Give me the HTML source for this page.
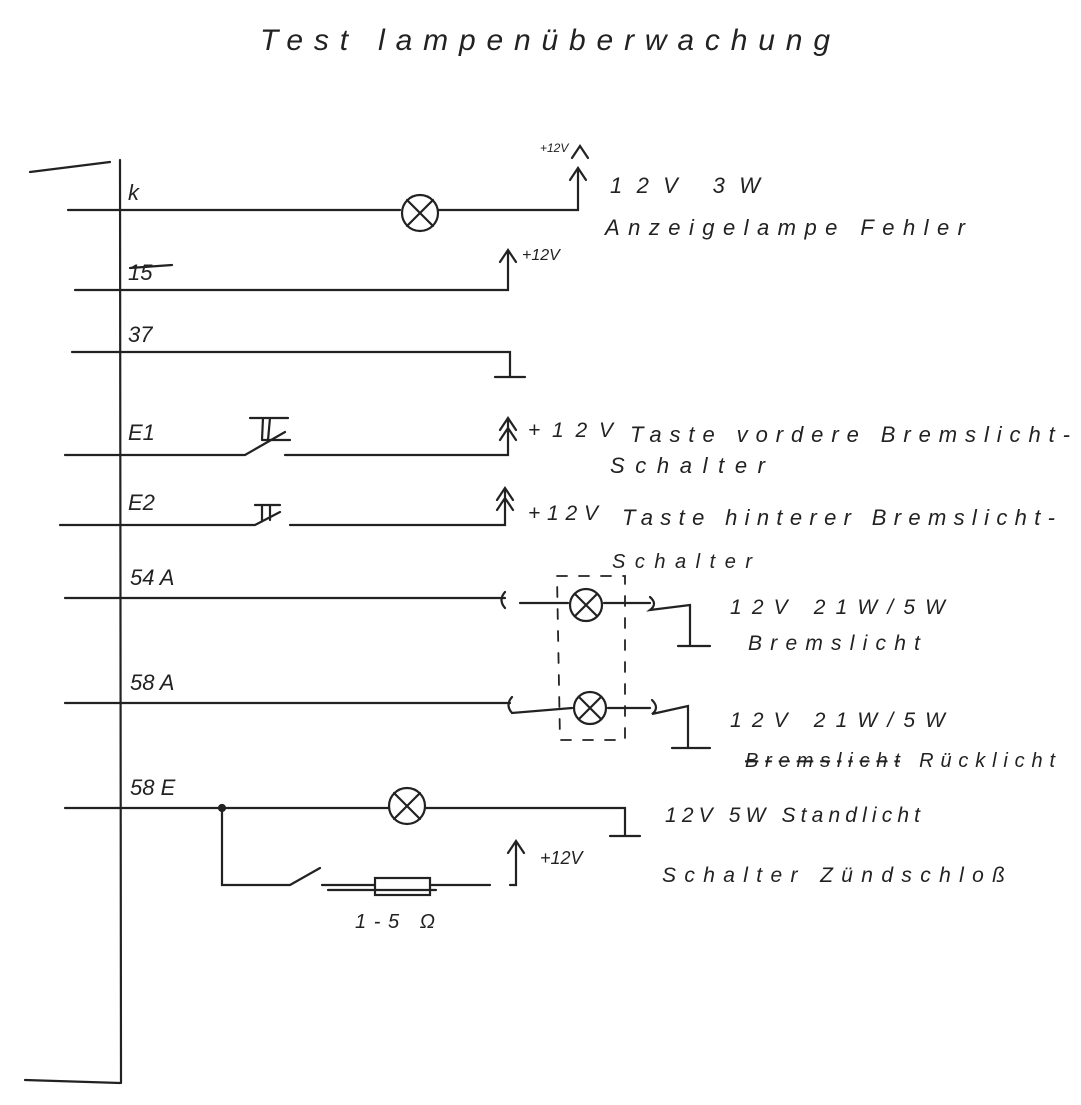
<!DOCTYPE html>
<html><head><meta charset="utf-8"><style>
html,body{margin:0;padding:0;background:#fff;}
svg{display:block}
text{font-family:"Liberation Sans",sans-serif;font-style:italic;fill:#222;}
</style></head><body>
<svg width="1081" height="1105" viewBox="0 0 1081 1105" xmlns="http://www.w3.org/2000/svg">
<g stroke="#222" stroke-width="2.2" fill="none" stroke-linecap="round">
<path d="M120 160 L121 1083"/>
<path d="M30 172 L110 162"/>
<path d="M25 1080 L120 1083"/>
<path d="M68 210 L400 210 M438 210 L578 210 L578 168"/>
<circle cx="420" cy="213" r="18"/><path d="M407 200 L433 226 M433 200 L407 226"/>
<path d="M570 180 L578 168 L586 180 M572 158 L580 146 L588 158"/>
<path d="M75 290 L508 290 L508 252 M500 262 L508 250 L516 262"/>
<path d="M130 268 L172 265"/>
<path d="M72 352 L510 352 L510 376 M495 377 L525 377"/>
<path d="M65 455 L245 455 L285 432 M285 455 L508 455 L508 420 M500 430 L508 418 L516 430 M500 440 L508 428 L516 440"/>
<path d="M250 418 L288 418 M263 418 L262 440 M270 418 L268 440 M262 440 L290 440"/>
<path d="M60 525 L178 525 L255 525 L280 512 M290 525 L505 525 L505 490 M497 500 L505 488 L513 500 M497 510 L505 498 L513 510"/>
<path d="M255 505 L280 505 M262 505 L262 520 M270 505 L270 520"/>
<path d="M65 598 L505 598 M505 592 Q498 600 505 608 M520 603 L568 603 M604 603 L650 603 M650 597 Q658 604 650 610 L690 605 L690 645 M678 646 L710 646"/>
<circle cx="586" cy="605" r="16"/><path d="M575 594 L597 616 M597 594 L575 616"/>
<path d="M65 703 L510 703 M512 697 Q505 705 512 713 L572 708 M608 708 L650 708 M652 700 Q660 708 652 714 L688 706 L688 748 M672 748 L710 748"/>
<circle cx="590" cy="708" r="16"/><path d="M579 697 L601 719 M601 697 L579 719"/>
<path d="M557 576 L625 576 L625 740 L560 740 Z" stroke-dasharray="10 12" stroke-width="1.8"/>
<path d="M65 808 L388 808 M426 808 L625 808 L625 835 M610 836 L640 836"/>
<circle cx="407" cy="806" r="18"/><path d="M394 793 L420 819 M420 793 L394 819"/>
<circle cx="222" cy="808" r="3" fill="#222"/>
<path d="M222 808 L222 885 L290 885 L320 868 M322 885 L375 885 M430 885 L490 885 M510 885 L516 885 L516 843 M508 853 L516 841 L524 853"/>
<rect x="375" y="878" width="55" height="17"/>
<path d="M328 890 L436 890"/>
</g>
<g font-size="26">
<text x="260" y="50" font-size="30" textLength="570" lengthAdjust="spacing">Test   lampenüberwachung</text>
<text x="128" y="200" font-size="22">k</text>
<text x="128" y="280" font-size="22">15</text>
<text x="128" y="342" font-size="22">37</text>
<text x="128" y="440" font-size="22">E1</text>
<text x="128" y="510" font-size="22">E2</text>
<text x="130" y="585" font-size="22">54 A</text>
<text x="130" y="690" font-size="22">58 A</text>
<text x="130" y="795" font-size="22">58 E</text>
<text x="540" y="152" font-size="12">+12V</text>
<text x="610" y="193" font-size="22" textLength="150" lengthAdjust="spacing">12V  3W</text>
<text x="605" y="235" font-size="22" textLength="360" lengthAdjust="spacing">Anzeigelampe  Fehler</text>
<text x="522" y="260" font-size="16">+12V</text>
<text x="528" y="437" font-size="21" textLength="85" lengthAdjust="spacing">+12V</text>
<text x="630" y="442" font-size="22" textLength="440" lengthAdjust="spacing">Taste   vordere Bremslicht-</text>
<text x="610" y="473" font-size="22" textLength="155" lengthAdjust="spacing">Schalter</text>
<text x="528" y="520" font-size="21" textLength="70" lengthAdjust="spacing">+12V</text>
<text x="622" y="525" font-size="22" textLength="433" lengthAdjust="spacing">Taste   hinterer Bremslicht-</text>
<text x="612" y="568" font-size="20" textLength="140" lengthAdjust="spacing">Schalter</text>
<text x="730" y="614" font-size="21" textLength="215" lengthAdjust="spacing">12V  21W/5W</text>
<text x="748" y="650" font-size="21" textLength="172" lengthAdjust="spacing">Bremslicht</text>
<text x="730" y="727" font-size="21" textLength="215" lengthAdjust="spacing">12V  21W/5W</text>
<text x="745" y="767" font-size="20" textLength="310" lengthAdjust="spacing"><tspan text-decoration="line-through">Bremslicht</tspan> Rücklicht</text>
<text x="665" y="822" font-size="21" textLength="255" lengthAdjust="spacing">12V 5W  Standlicht</text>
<text x="540" y="864" font-size="18">+12V</text>
<text x="662" y="882" font-size="21" textLength="343" lengthAdjust="spacing">Schalter  Zündschloß</text>
<text x="355" y="928" font-size="20" textLength="80" lengthAdjust="spacing">1-5 Ω</text>
</g>
</svg>
</body></html>
